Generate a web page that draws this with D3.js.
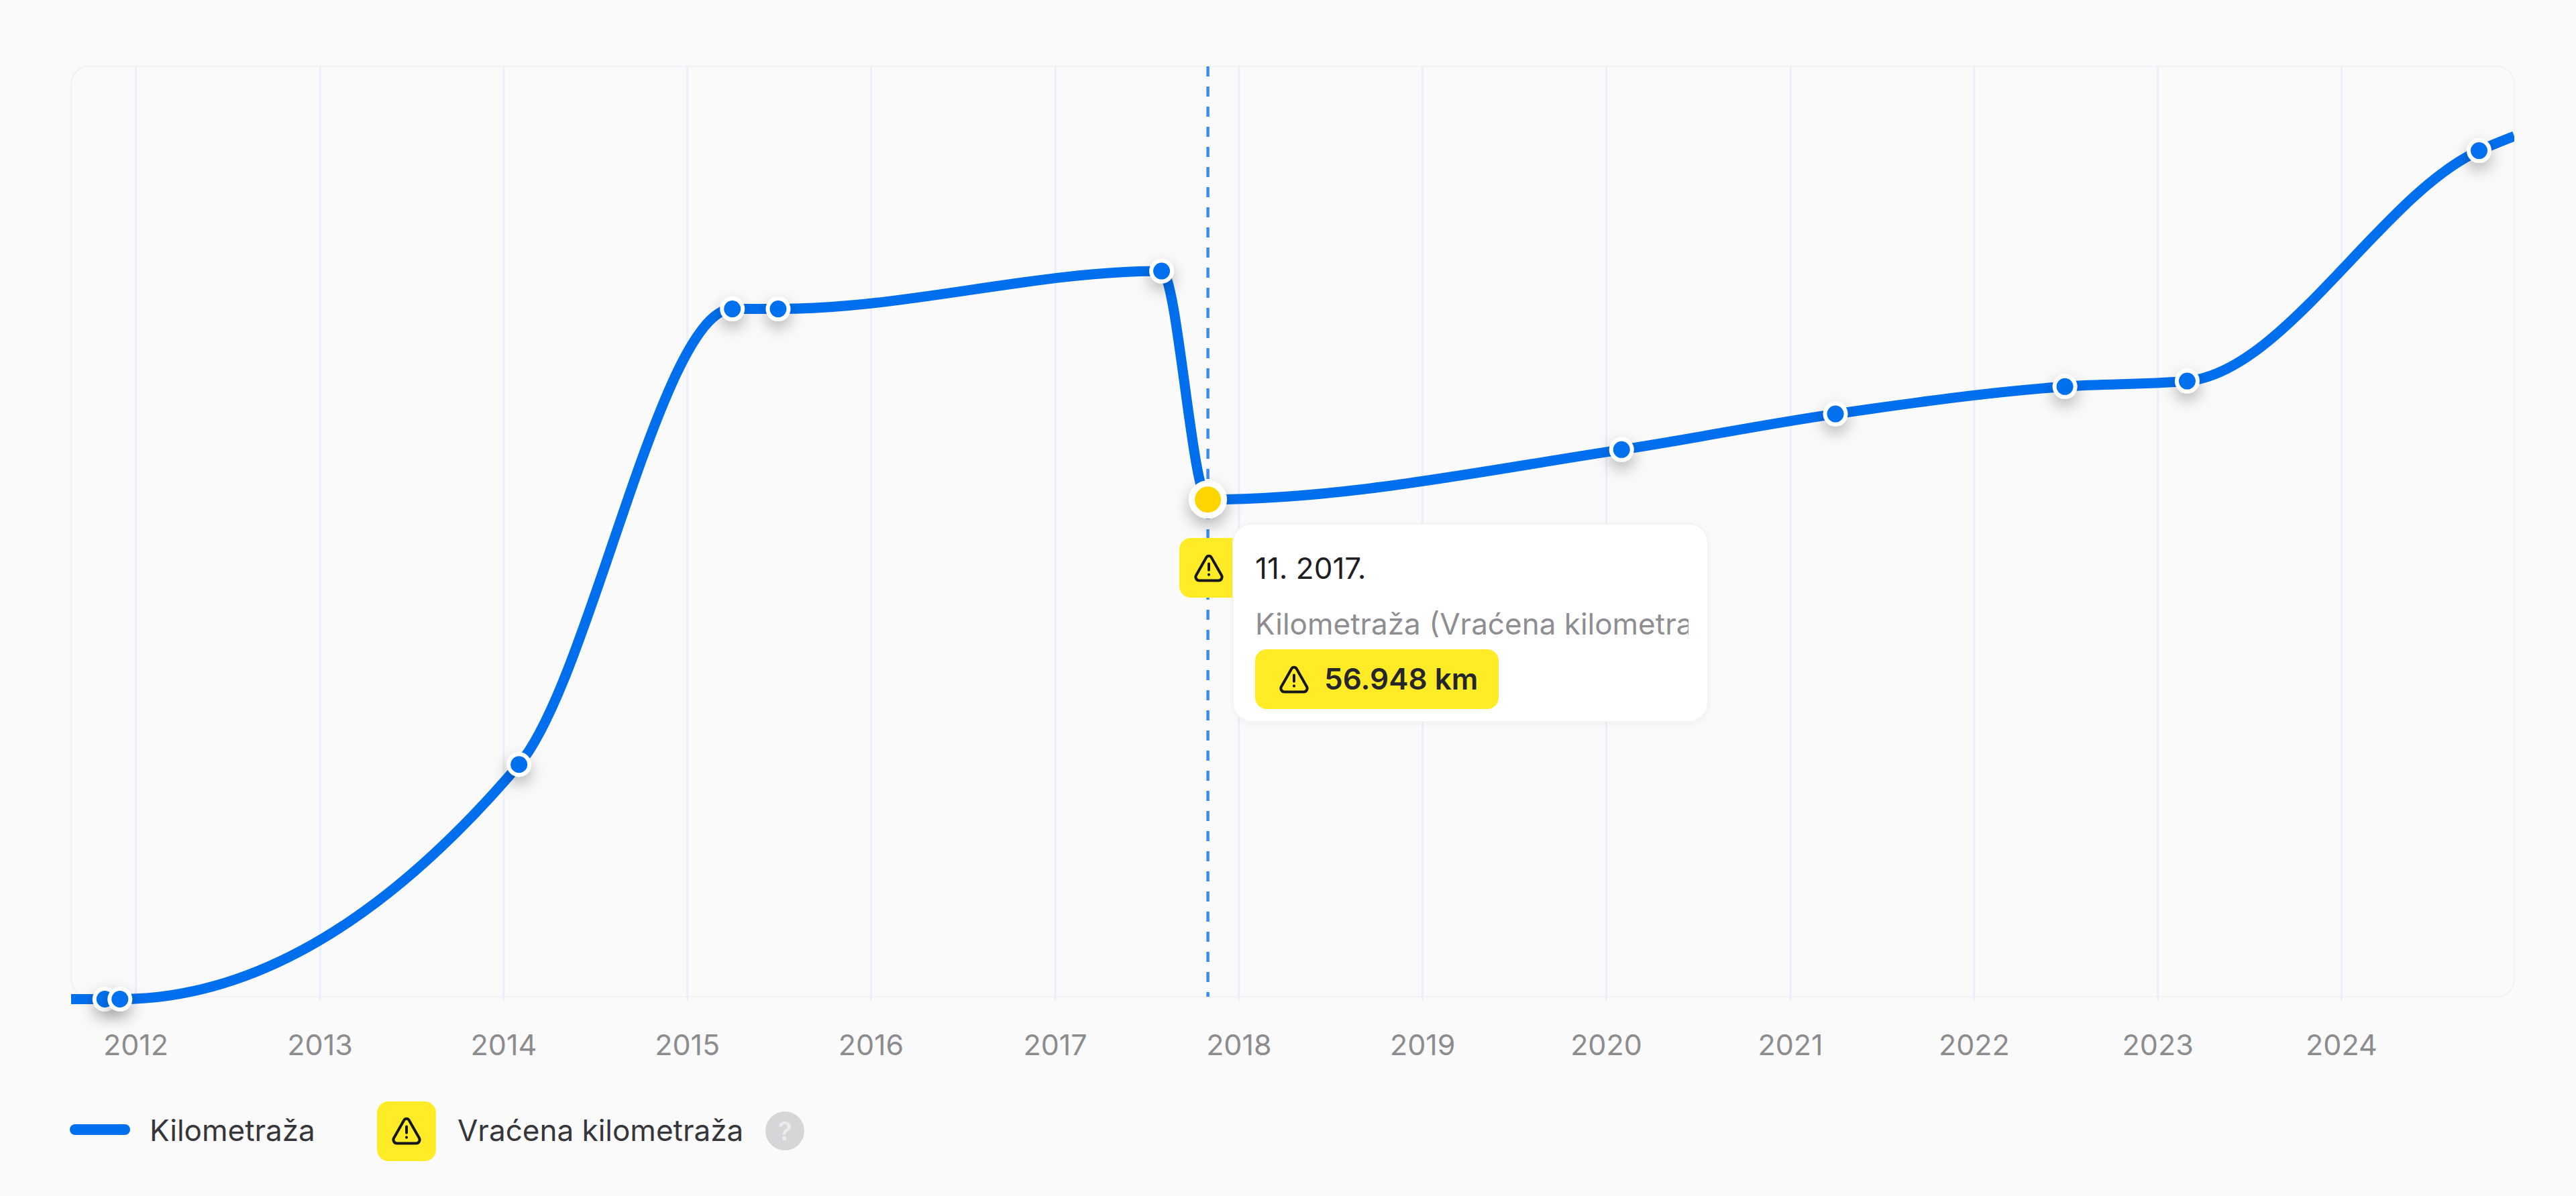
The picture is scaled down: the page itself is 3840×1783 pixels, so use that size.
<!DOCTYPE html>
<html>
<head>
  <title>Kilometraža</title>
  <meta charset="utf-8">
  <script type="text/javascript" src="https://cdnjs.cloudflare.com/ajax/libs/d3/7.8.5/d3.min.js"></script>
  <style>
    html, body { margin: 0; padding: 0; background: #fafafa; }
    svg { display: block; }
    text { font-family: Inter, "Noto Sans", sans-serif; }
  </style>
</head>

<body>

<div id="container"></div>

<script>

  // values
  const years = [2012, 2013, 2014, 2015, 2016, 2017, 2018, 2019, 2020, 2021, 2022, 2023, 2024];
  const pointDates = ['2011-11', '2011-12', '2014-02', '2015-04', '2015-07', '2017-08',
    '2017-11', '2020-02', '2021-04', '2022-07', '2023-03', '2024-10'];
  const pointKm = [0, 0, 26740, 78670, 78670, 82990, 56948, 62630, 66700, 69820, 70450, 96710];

  // line runs on past the dots to both edges of the plot
  const startDate = '2011-08-26';
  const startKm = 0;
  const endDate = '2024-12-10';
  const endKm = 98360;

  const rolledBackIndex = 6;
  const seriesName = 'Kilometraža';
  const rolledBackName = 'Vraćena kilometraža';
  const tooltipDate = '11. 2017.';
  const tooltipLabel = 'Kilometraža (Vraćena kilometraža)';
  const tooltipValue = '56.948 km';

  const width = 3840;
  const height = 1783;
  const plot = {left: 106, right: 3748, top: 99, bottom: 1486};

  const blue = '#006fee';
  const badgeYellow = '#ffec27';

  const parseMonth = d3.timeParse('%Y-%m');
  const parseDay = d3.timeParse('%Y-%m-%d');

  const points = pointDates.map((d, i) => ({date: parseMonth(d), km: pointKm[i]}));
  const linePoints = [{date: parseDay(startDate), km: startKm}]
    .concat(points, [{date: parseDay(endDate), km: endKm}]);

  const xScale = d3.scaleTime()
    .domain([parseDay(startDate), parseDay(endDate)])
    .range([plot.left, plot.right]);

  // zero sits a touch under the frame
  const yScale = d3.scaleLinear()
    .domain([0, 106200])
    .range([1489.5, plot.top + 1.5]);

  const svg = d3.select('div#container').append('svg')
    .attr('width', width)
    .attr('height', height);

  const defs = svg.append('defs');

  defs.append('clipPath').attr('id', 'plot-clip')
    .append('rect')
    .attr('x', plot.left)
    .attr('y', plot.top - 20)
    .attr('width', plot.right - plot.left)
    .attr('height', plot.bottom - plot.top + 60);

  defs.append('clipPath').attr('id', 'label-clip')
    .append('rect')
    .attr('x', 1871)
    .attr('y', 900)
    .attr('width', 646)
    .attr('height', 62);

  const dotShadow = defs.append('filter').attr('id', 'dot-shadow')
    .attr('x', '-200%').attr('y', '-200%').attr('width', '500%').attr('height', '500%');
  dotShadow.append('feDropShadow')
    .attr('dx', 0).attr('dy', 10).attr('stdDeviation', 11)
    .attr('flood-color', '#000').attr('flood-opacity', 0.28);

  const tipShadow = defs.append('filter').attr('id', 'tip-shadow')
    .attr('x', '-10%').attr('y', '-10%').attr('width', '120%').attr('height', '120%');
  tipShadow.append('feDropShadow')
    .attr('dx', 0).attr('dy', 2).attr('stdDeviation', 4)
    .attr('flood-color', '#000').attr('flood-opacity', 0.04);

  // warning triangle, drawn around its centre
  function warningIcon(g, cx, cy, scale) {
    const icon = g.append('g')
      .attr('transform', `translate(${cx},${cy}) scale(${scale}) translate(-12,-12)`)
      .attr('fill', 'none')
      .attr('stroke', '#16161a')
      .attr('stroke-width', 2)
      .attr('stroke-linecap', 'round')
      .attr('stroke-linejoin', 'round');
    icon.append('path')
      .attr('d', 'M10.2 3.9 L2.5 17.4 C1.6 19.1 2.8 21.2 4.8 21.2 H19.2 C21.2 21.2 22.4 19.1 21.5 17.4 L13.8 3.9 C13 2.5 11 2.5 10.2 3.9 Z');
    icon.append('path').attr('d', 'M12 8.8 V13.4');
    icon.append('path').attr('d', 'M12 16.8 V16.9');
  }

  // frame
  svg.append('rect')
    .attr('x', plot.left)
    .attr('y', plot.top)
    .attr('width', plot.right - plot.left)
    .attr('height', plot.bottom - plot.top)
    .attr('rx', 26)
    .attr('fill', 'none')
    .attr('stroke', '#f2f3f5')
    .attr('stroke-width', 2.5);

  const yearDates = years.map(y => new Date(y, 0, 1));

  // x axis, the ticks double as grid lines
  const axis = svg.append('g')
    .classed('x_axis', true)
    .attr('transform', `translate(0, ${plot.bottom})`)
    .call(d3.axisBottom(xScale)
      .tickValues(yearDates)
      .tickFormat(d3.timeFormat('%Y')));

  axis.select('.domain').remove();
  axis.selectAll('line')
    .attr('y1', plot.top - plot.bottom)
    .attr('y2', 5)
    .attr('stroke', '#e9f0f9')
    .attr('stroke-width', 3);
  axis.selectAll('text')
    .attr('y', 87)
    .attr('dy', 0)
    .attr('font-size', 43)
    .style('font-family', 'Inter')
    .attr('fill', '#8c8c8e');

  // hover line of the picked point
  svg.append('line')
    .attr('x1', xScale(points[rolledBackIndex].date))
    .attr('x2', xScale(points[rolledBackIndex].date))
    .attr('y1', plot.top)
    .attr('y2', plot.bottom)
    .attr('stroke', '#3b8cf0')
    .attr('stroke-width', 4.5)
    .attr('stroke-dasharray', '15 15');

  // series line
  const line = d3.line()
    .x(d => xScale(d.date))
    .y(d => yScale(d.km))
    .curve(d3.curveMonotoneX);

  svg.append('g')
    .attr('clip-path', 'url(#plot-clip)')
    .append('path')
    .datum(linePoints)
    .attr('d', line)
    .attr('fill', 'none')
    .attr('stroke', blue)
    .attr('stroke-width', 15);

  // dots
  svg.append('g').selectAll('circle')
    .data(points)
    .enter()
    .append('circle')
    .attr('cx', d => xScale(d.date))
    .attr('cy', d => yScale(d.km))
    .attr('r', (d, i) => i === rolledBackIndex ? 24 : 15.5)
    .attr('fill', (d, i) => i === rolledBackIndex ? '#ffd500' : blue)
    .attr('stroke', '#fff')
    .attr('stroke-width', (d, i) => i === rolledBackIndex ? 9 : 6)
    .attr('filter', 'url(#dot-shadow)');

  // tooltip
  const tip = svg.append('g');

  tip.append('rect')
    .attr('x', 1758).attr('y', 802)
    .attr('width', 110).attr('height', 89)
    .attr('rx', 17)
    .attr('fill', badgeYellow);
  warningIcon(tip, 1802, 847, 2);

  tip.append('rect')
    .attr('x', 1838).attr('y', 781)
    .attr('width', 708).attr('height', 295)
    .attr('rx', 28)
    .attr('fill', '#fff')
    .attr('stroke', '#f3f3f5')
    .attr('stroke-width', 2)
    .attr('filter', 'url(#tip-shadow)');

  tip.append('text')
    .attr('x', 1871).attr('y', 863)
    .attr('font-size', 44)
    .attr('fill', '#1f1f23')
    .text(tooltipDate);

  tip.append('g')
    .attr('clip-path', 'url(#label-clip)')
    .append('text')
    .attr('x', 1871).attr('y', 946)
    .attr('font-size', 44)
    .attr('fill', '#8e8e92')
    .text(tooltipLabel);

  tip.append('rect')
    .attr('x', 1871).attr('y', 968)
    .attr('width', 363).attr('height', 89)
    .attr('rx', 17)
    .attr('fill', badgeYellow);
  warningIcon(tip, 1929, 1013, 2);

  tip.append('text')
    .attr('x', 1974).attr('y', 1028)
    .attr('font-size', 44)
    .attr('font-weight', 600)
    .attr('fill', '#26262a')
    .text(tooltipValue);

  // legend
  const legend = svg.append('g');

  legend.append('rect')
    .attr('x', 104).attr('y', 1676)
    .attr('width', 90).attr('height', 16)
    .attr('rx', 8)
    .attr('fill', blue);

  legend.append('text')
    .attr('x', 223).attr('y', 1701)
    .attr('font-size', 44)
    .attr('fill', '#36363a')
    .text(seriesName);

  legend.append('rect')
    .attr('x', 562).attr('y', 1642)
    .attr('width', 88).attr('height', 89)
    .attr('rx', 17)
    .attr('fill', badgeYellow);
  warningIcon(legend, 606, 1686, 2);

  legend.append('text')
    .attr('x', 682).attr('y', 1701)
    .attr('font-size', 44)
    .attr('fill', '#36363a')
    .text(rolledBackName);

  legend.append('circle')
    .attr('cx', 1170).attr('cy', 1686)
    .attr('r', 29)
    .attr('fill', '#d6d6d8');

  legend.append('text')
    .attr('x', 1170).attr('y', 1700)
    .attr('text-anchor', 'middle')
    .attr('font-size', 38)
    .attr('font-weight', 600)
    .attr('fill', '#ececee')
    .text('?');

</script>

</body>
</html>
